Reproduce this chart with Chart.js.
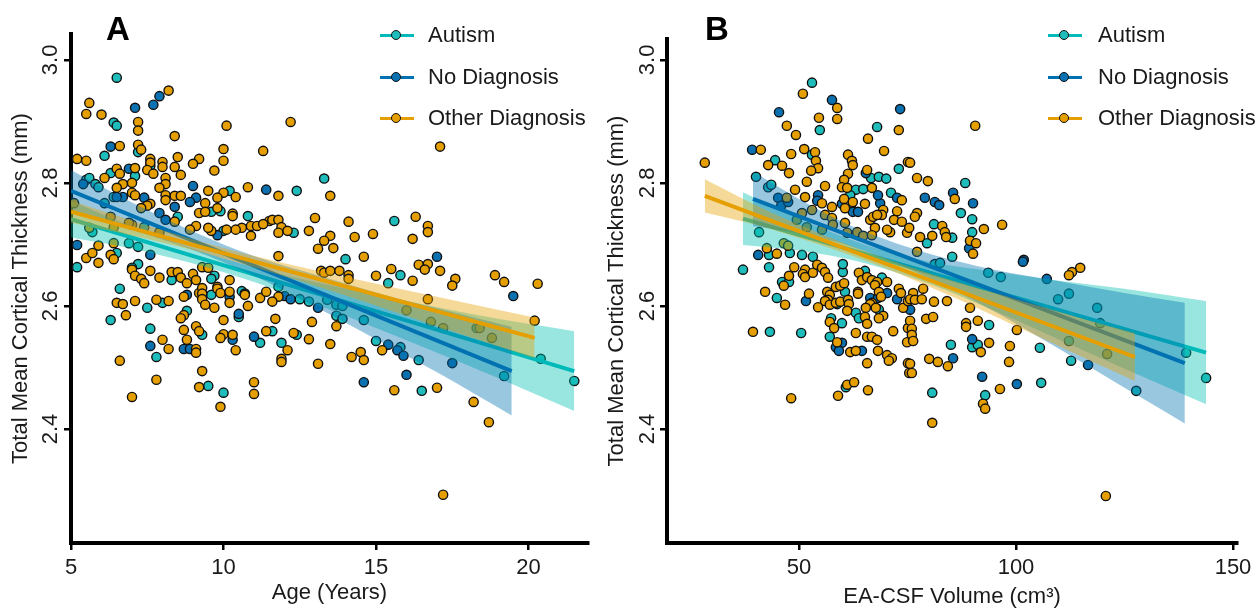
<!DOCTYPE html>
<html><head><meta charset="utf-8">
<script src="https://cdn.jsdelivr.net/npm/chart.js@4/dist/chart.umd.min.js"></script>
<style>
html,body{margin:0;padding:0;background:#fff;width:1258px;height:610px;overflow:hidden;font-family:"Liberation Sans",Arial,sans-serif;}
#wrap{position:relative;width:1258px;height:610px;}
canvas{position:absolute;top:0;}
#cA{left:0;} #cB{left:600px;}
.lbl{position:absolute;top:12px;font-weight:bold;font-size:33px;line-height:33px;color:#000;}
.leg{position:absolute;font-size:22px;line-height:22px;color:#1a1a1a;white-space:nowrap;}
.key{position:absolute;height:3px;width:34px;}
.dot{position:absolute;width:8px;height:8px;border:1.4px solid #111;border-radius:50%;}
</style></head>
<body><div id="wrap">
<canvas id="cA" width="600" height="610"></canvas>
<canvas id="cB" width="658" height="610"></canvas>
<div class="lbl" style="left:106px">A</div>
<div class="lbl" style="left:705px">B</div>
<div id="legends"></div>
</div>
<script>
// ---------- categories / labels ----------
const GROUPS = ['Autism', 'No Diagnosis', 'Other Diagnosis'];
const Y_TITLE = 'Total Mean Cortical Thickness (mm)';
const A_X_TITLE = 'Age (Years)';
const B_X_TITLE = 'EA-CSF Volume (cm\u00B3)';
const Y_TICKS = [2.4, 2.6, 2.8, 3.0];
const A_X_TICKS = [5, 10, 15, 20];
const B_X_TICKS = [50, 100, 150];

// ---------- Panel A: age vs thickness ----------
const A_AUTISM = [[6.5,2.971],[6.4,2.898],[6.5,2.893],[7.2,2.850],[6.1,2.844],[7.6,2.828],[7.1,2.811],[6.3,2.816],[10.2,2.787],[6.4,2.777],[9.9,2.754],[9.6,2.753],[10.8,2.746],[10.0,2.722],[5.5,2.805],[5.6,2.808],[5.8,2.798],[5.9,2.793],[5.7,2.720],[7.4,2.728],[5.2,2.663],[6.5,2.686],[6.9,2.702],[7.2,2.696],[7.2,2.668],[7.0,2.662],[8.3,2.642],[9.7,2.649],[9.6,2.644],[9.6,2.618],[10.6,2.624],[10.7,2.620],[6.6,2.628],[8.0,2.605],[7.5,2.597],[6.3,2.577],[8.8,2.592],[10.5,2.582],[7.6,2.563],[9.3,2.553],[7.8,2.517],[11.2,2.540],[9.5,2.470],[10.0,2.459],[13.3,2.807],[12.4,2.787],[12.3,2.719],[15.6,2.738],[14.0,2.676],[15.8,2.650],[15.4,2.637],[11.8,2.631],[12.5,2.611],[12.8,2.607],[13.4,2.610],[13.7,2.602],[13.9,2.600],[13.7,2.584],[13.9,2.579],[14.6,2.577],[11.6,2.559],[12.4,2.553],[11.9,2.540],[15.0,2.543],[15.8,2.533],[16.4,2.512],[16.5,2.462],[19.2,2.486],[20.4,2.514],[21.5,2.478],[18.3,2.564],[6.1,2.767],[8.5,2.745]];
const A_NODX = [[7.9,2.941],[7.7,2.927],[7.1,2.922],[6.3,2.859],[6.9,2.823],[9.0,2.795],[11.4,2.789],[7.4,2.776],[9.1,2.776],[8.9,2.769],[8.4,2.761],[6.7,2.777],[6.5,2.777],[7.9,2.751],[8.1,2.740],[5.4,2.798],[9.8,2.715],[5.2,2.699],[7.6,2.683],[10.2,2.615],[8.8,2.618],[10.5,2.587],[10.3,2.545],[7.6,2.535],[8.7,2.530],[8.9,2.530],[11.0,2.550],[17.0,2.680],[19.5,2.616],[12.0,2.616],[12.2,2.611],[13.1,2.597],[15.4,2.537],[15.7,2.528],[15.9,2.519],[17.5,2.507],[14.6,2.476],[16.0,2.488]];
const A_OTHER = [[8.2,2.950],[5.6,2.930],[5.5,2.912],[6.0,2.911],[7.2,2.899],[7.2,2.885],[10.1,2.893],[8.4,2.876],[6.6,2.860],[7.2,2.862],[7.3,2.854],[10.0,2.855],[11.3,2.852],[5.2,2.839],[5.5,2.836],[8.5,2.842],[7.6,2.839],[7.6,2.833],[8.0,2.834],[9.2,2.839],[9.0,2.831],[10.0,2.836],[8.4,2.826],[8.0,2.826],[7.5,2.821],[7.7,2.815],[7.1,2.824],[6.5,2.823],[6.6,2.815],[9.7,2.820],[8.6,2.813],[6.1,2.808],[8.1,2.808],[8.1,2.798],[7.0,2.800],[6.7,2.798],[6.5,2.792],[7.9,2.792],[10.8,2.793],[9.5,2.787],[7.0,2.784],[7.1,2.780],[10.0,2.784],[10.4,2.777],[8.1,2.780],[8.1,2.772],[8.4,2.779],[8.6,2.779],[9.4,2.767],[9.8,2.776],[9.2,2.751],[9.4,2.753],[9.8,2.759],[7.6,2.766],[7.5,2.763],[7.3,2.759],[10.3,2.750],[10.3,2.746],[11.5,2.738],[10.9,2.730],[11.1,2.730],[11.3,2.733],[10.6,2.727],[10.4,2.724],[10.1,2.724],[9.1,2.730],[9.6,2.722],[8.4,2.737],[5.1,2.767],[5.6,2.727],[6.4,2.728],[7.0,2.732],[7.9,2.720],[10.9,2.714],[5.5,2.678],[5.7,2.686],[5.9,2.670],[5.9,2.698],[6.3,2.683],[6.4,2.676],[6.4,2.702],[7.0,2.659],[7.1,2.649],[7.3,2.644],[7.4,2.637],[7.6,2.657],[7.9,2.646],[8.3,2.655],[8.5,2.655],[8.6,2.646],[9.0,2.652],[9.1,2.642],[8.8,2.637],[9.3,2.663],[9.5,2.662],[10.2,2.642],[9.8,2.631],[9.8,2.628],[9.2,2.621],[9.3,2.629],[9.3,2.620],[9.9,2.621],[10.2,2.623],[10.2,2.605],[8.7,2.615],[9.3,2.611],[9.4,2.602],[9.7,2.597],[10.7,2.618],[10.8,2.600],[11.2,2.613],[11.4,2.623],[6.5,2.605],[6.7,2.603],[7.1,2.608],[7.8,2.610],[8.2,2.608],[6.8,2.585],[8.7,2.585],[8.6,2.580],[10.0,2.577],[8.7,2.561],[9.1,2.567],[9.2,2.559],[8.8,2.545],[8.0,2.545],[8.2,2.530],[9.1,2.530],[9.1,2.524],[10.0,2.554],[9.9,2.548],[10.3,2.553],[10.4,2.528],[11.4,2.559],[6.6,2.511],[7.8,2.480],[9.3,2.494],[9.2,2.468],[9.9,2.436],[7.0,2.452],[11.0,2.476],[11.0,2.457],[12.2,2.899],[17.1,2.859],[11.8,2.779],[13.5,2.779],[11.6,2.740],[11.8,2.740],[11.9,2.728],[11.8,2.719],[12.1,2.722],[13.0,2.743],[12.8,2.722],[14.1,2.737],[16.3,2.745],[16.7,2.730],[16.7,2.720],[13.5,2.714],[14.3,2.712],[14.9,2.717],[16.2,2.709],[13.1,2.693],[13.6,2.694],[13.3,2.706],[11.8,2.681],[14.6,2.680],[16.4,2.667],[16.7,2.668],[16.6,2.659],[17.1,2.657],[15.5,2.660],[15.0,2.649],[16.2,2.641],[17.6,2.644],[17.5,2.633],[18.9,2.650],[19.2,2.639],[20.3,2.636],[13.2,2.657],[13.3,2.654],[13.5,2.657],[13.8,2.657],[14.1,2.650],[14.1,2.644],[16.7,2.611],[16.0,2.593],[20.2,2.576],[18.4,2.564],[18.8,2.548],[16.8,2.574],[17.2,2.564],[11.8,2.615],[11.6,2.607],[11.7,2.579],[12.9,2.574],[13.7,2.567],[12.3,2.556],[12.8,2.546],[12.1,2.528],[11.9,2.514],[11.9,2.509],[13.5,2.538],[13.1,2.506],[14.5,2.525],[14.2,2.517],[14.6,2.512],[15.2,2.528],[15.6,2.463],[17.0,2.467],[18.2,2.444],[18.7,2.411],[17.2,2.293],[6.3,2.745],[6.9,2.735],[8.9,2.724],[9.5,2.727]];

// regression fits and confidence bands (panel A)
const A_FIT_AUTISM = [[5, 2.741], [21.5, 2.494]];
const A_FIT_NODX   = [[5, 2.787], [19.45, 2.494]];
const A_FIT_OTHER  = [[5, 2.753], [20.2, 2.548]];
const A_BAND_AUTISM_X  = [5, 7, 9, 11, 13, 15, 17, 19, 21.5];
const A_BAND_AUTISM_HI = [2.771, 2.729, 2.693, 2.663, 2.639, 2.618, 2.598, 2.579, 2.559];
const A_BAND_AUTISM_LO = [2.711, 2.693, 2.669, 2.639, 2.603, 2.564, 2.524, 2.483, 2.429];
const A_BAND_NODX_X  = [5, 7, 9, 11, 13, 15, 17, 19.45];
const A_BAND_NODX_HI = [2.821, 2.768, 2.721, 2.681, 2.651, 2.622, 2.596, 2.566];
const A_BAND_NODX_LO = [2.753, 2.724, 2.691, 2.649, 2.599, 2.546, 2.492, 2.422];
const A_BAND_OTHER_X  = [5, 8, 11, 14, 17, 20.2];
const A_BAND_OTHER_HI = [2.771, 2.723, 2.681, 2.647, 2.615, 2.581];
const A_BAND_OTHER_LO = [2.735, 2.703, 2.663, 2.617, 2.567, 2.515];

// ---------- Panel B: EA-CSF volume vs thickness ----------
const B_AUTISM = [[53.0,2.963],[54.8,2.886],[68.0,2.891],[53.0,2.846],[44.5,2.837],[73.0,2.823],[66.6,2.808],[68.4,2.810],[70.1,2.807],[63.1,2.789],[64.8,2.790],[71.2,2.784],[61.8,2.780],[62.0,2.759],[40.1,2.810],[42.9,2.793],[43.6,2.797],[40.8,2.720],[43.1,2.683],[47.9,2.686],[50.7,2.683],[37.1,2.659],[43.1,2.663],[53.2,2.680],[46.1,2.639],[47.7,2.639],[44.9,2.613],[58.8,2.603],[60.6,2.623],[60.1,2.655],[60.1,2.668],[65.2,2.657],[69.1,2.646],[68.4,2.594],[63.1,2.589],[63.8,2.580],[57.4,2.580],[59.9,2.572],[57.1,2.550],[43.3,2.558],[50.5,2.556],[60.8,2.468],[88.3,2.800],[87.3,2.751],[89.9,2.741],[81.1,2.733],[85.3,2.711],[89.9,2.720],[79.5,2.702],[85.3,2.680],[81.3,2.668],[82.5,2.670],[93.6,2.654],[96.5,2.647],[112.2,2.620],[109.7,2.611],[118.7,2.597],[112.2,2.543],[93.8,2.569],[85.0,2.537],[89.9,2.533],[91.2,2.537],[105.5,2.532],[112.7,2.511],[105.8,2.475],[80.7,2.459],[92.9,2.455],[127.7,2.462],[139.2,2.524],[143.8,2.483],[119.4,2.572]];
const B_NODX = [[57.6,2.935],[45.4,2.915],[73.3,2.920],[39.2,2.854],[65.4,2.816],[72.6,2.776],[54.4,2.780],[54.2,2.771],[59.9,2.766],[68.7,2.767],[68.2,2.780],[62.4,2.753],[63.6,2.753],[45.2,2.776],[45.9,2.763],[47.5,2.769],[40.6,2.683],[51.6,2.608],[66.4,2.613],[68.2,2.613],[70.3,2.621],[72.6,2.611],[59.9,2.540],[58.5,2.533],[59.2,2.527],[64.5,2.527],[79.0,2.776],[81.3,2.769],[82.3,2.764],[85.5,2.784],[90.1,2.767],[89.2,2.694],[101.8,2.675],[101.6,2.672],[107.1,2.644],[75.6,2.594],[89.9,2.546],[85.5,2.515],[116.6,2.504],[92.2,2.485],[100.2,2.473]];
const B_OTHER = [[50.9,2.945],[58.8,2.922],[58.8,2.904],[54.6,2.906],[47.2,2.893],[49.3,2.878],[73.0,2.886],[65.9,2.872],[69.6,2.852],[41.2,2.854],[28.3,2.833],[51.2,2.855],[53.7,2.850],[48.2,2.847],[42.9,2.829],[46.1,2.828],[47.7,2.816],[53.9,2.836],[54.4,2.824],[52.8,2.820],[61.3,2.846],[62.2,2.836],[62.4,2.829],[75.1,2.834],[65.7,2.821],[61.3,2.815],[60.4,2.805],[51.8,2.802],[56.0,2.795],[59.9,2.793],[61.1,2.792],[66.8,2.792],[73.7,2.772],[49.1,2.789],[51.4,2.777],[55.3,2.767],[57.6,2.761],[60.4,2.774],[62.4,2.769],[65.2,2.766],[69.4,2.756],[69.1,2.748],[72.6,2.754],[60.6,2.759],[66.4,2.740],[67.1,2.745],[68.0,2.748],[71.9,2.740],[73.7,2.737],[71.0,2.720],[70.3,2.724],[74.9,2.719],[75.4,2.727],[67.5,2.727],[50.7,2.751],[53.0,2.756],[56.0,2.748],[57.6,2.743],[57.8,2.732],[60.6,2.735],[63.4,2.720],[64.8,2.714],[66.8,2.715],[61.1,2.719],[55.3,2.724],[51.8,2.728],[49.5,2.740],[42.6,2.694],[46.5,2.702],[47.5,2.698],[47.2,2.776],[44.9,2.685],[48.9,2.663],[51.4,2.659],[50.9,2.652],[51.4,2.647],[53.2,2.654],[54.2,2.667],[55.3,2.662],[56.0,2.655],[56.7,2.646],[46.5,2.633],[47.7,2.649],[42.2,2.623],[46.8,2.602],[52.3,2.620],[54.4,2.598],[56.5,2.623],[57.1,2.618],[56.7,2.610],[56.0,2.608],[57.1,2.602],[58.5,2.605],[59.5,2.607],[58.5,2.631],[59.5,2.633],[60.4,2.637],[61.3,2.610],[61.5,2.603],[61.1,2.592],[63.6,2.623],[63.6,2.620],[63.8,2.654],[64.5,2.642],[65.7,2.647],[66.8,2.642],[68.0,2.639],[67.5,2.634],[70.3,2.639],[68.4,2.623],[68.9,2.615],[66.8,2.605],[66.4,2.603],[65.4,2.597],[67.7,2.597],[69.4,2.584],[68.4,2.580],[73.0,2.628],[73.5,2.621],[74.0,2.597],[75.1,2.608],[65.2,2.582],[65.7,2.571],[57.1,2.574],[58.1,2.564],[63.1,2.556],[65.7,2.550],[66.8,2.550],[68.0,2.545],[71.7,2.559],[58.8,2.541],[61.8,2.525],[63.1,2.527],[68.2,2.527],[70.3,2.520],[71.4,2.515],[70.7,2.511],[65.7,2.507],[75.1,2.564],[74.9,2.541],[75.1,2.507],[75.4,2.491],[39.4,2.558],[61.1,2.472],[62.7,2.476],[59.0,2.454],[65.9,2.463],[48.2,2.450],[90.6,2.893],[75.6,2.833],[77.2,2.808],[79.7,2.803],[85.9,2.774],[77.2,2.751],[76.7,2.745],[83.0,2.730],[83.6,2.720],[83.9,2.712],[92.6,2.725],[96.8,2.732],[77.9,2.712],[80.7,2.714],[89.4,2.706],[90.8,2.702],[77.2,2.688],[90.1,2.685],[114.8,2.662],[112.9,2.655],[112.2,2.650],[78.6,2.628],[76.3,2.621],[75.6,2.611],[76.7,2.610],[78.3,2.611],[81.1,2.607],[84.1,2.608],[89.4,2.597],[79.3,2.579],[80.9,2.582],[75.6,2.576],[76.0,2.563],[76.0,2.553],[76.3,2.543],[88.5,2.572],[88.5,2.566],[91.2,2.576],[100.2,2.561],[121.0,2.522],[91.9,2.525],[93.8,2.540],[98.6,2.535],[80.0,2.514],[82.0,2.509],[84.3,2.502],[75.6,2.506],[76.0,2.491],[98.4,2.509],[96.3,2.465],[92.4,2.441],[92.9,2.433],[80.7,2.410],[120.7,2.291]];

const B_FIT_AUTISM = [[37.1, 2.742], [143.8, 2.524]];
const B_FIT_NODX   = [[39.4, 2.774], [138.9, 2.507]];
const B_FIT_OTHER  = [[28.3, 2.779], [127.4, 2.517]];
const B_BAND_AUTISM_X  = [37.1, 50, 65, 80, 95, 110, 125, 143.8];
const B_BAND_AUTISM_HI = [2.785, 2.742, 2.700, 2.672, 2.656, 2.641, 2.628, 2.608];
const B_BAND_AUTISM_LO = [2.699, 2.690, 2.670, 2.636, 2.592, 2.545, 2.498, 2.440];
const B_BAND_NODX_X  = [39.4, 50, 60, 70, 80, 95, 110, 125, 138.9];
const B_BAND_NODX_HI = [2.818, 2.774, 2.737, 2.708, 2.685, 2.659, 2.640, 2.621, 2.605];
const B_BAND_NODX_LO = [2.730, 2.718, 2.701, 2.676, 2.645, 2.591, 2.530, 2.467, 2.409];
const B_BAND_OTHER_X  = [28.3, 40, 55, 70, 85, 100, 115, 127.4];
const B_BAND_OTHER_HI = [2.806, 2.764, 2.717, 2.677, 2.642, 2.611, 2.580, 2.556];
const B_BAND_OTHER_LO = [2.752, 2.732, 2.699, 2.661, 2.616, 2.567, 2.518, 2.478];

// ---------- styling ----------
const FONT = '"Liberation Sans", Arial, sans-serif';
const TEXT = '#1a1a1a';
const PT_COL   = ['#1fbcbc', '#0b71b0', '#e69f00'];
const LINE_COL = ['#00b9b9', '#0072b2', '#e69f00'];
const BAND_COL = ['rgba(0,192,178,0.40)', 'rgba(0,114,178,0.40)', 'rgba(230,159,0,0.40)'];

const toXY = arr => arr.map(p => ({x: p[0], y: p[1]}));
const zipXY = (xs, ys) => xs.map((x, i) => ({x: x, y: ys[i]}));

function buildDatasets(points, fits, bands) {
  const ds = [];
  // points (drawn underneath everything)
  [2, 1, 0].forEach((g, k) => {
    ds.push({type: 'scatter', label: GROUPS[g], data: toXY(points[g]),
      backgroundColor: PT_COL[g], borderColor: '#111', borderWidth: 1.4,
      pointRadius: 4.6, order: 100 + k});
  });
  // ribbons + lines, per group in factor order (later groups on top)
  [0, 1, 2].forEach(g => {
    const base = 60 - g * 20;
    ds.push({type: 'line', label: GROUPS[g] + ' hi', data: zipXY(bands[g][0], bands[g][1]),
      borderColor: 'rgba(0,0,0,0)', borderWidth: 0, pointRadius: 0, fill: false,
      cubicInterpolationMode: 'monotone', order: base + 2});
    ds.push({type: 'line', label: GROUPS[g] + ' lo', data: zipXY(bands[g][0], bands[g][2]),
      borderColor: 'rgba(0,0,0,0)', borderWidth: 0, pointRadius: 0, fill: '-1',
      backgroundColor: BAND_COL[g], cubicInterpolationMode: 'monotone', order: base + 1});
    ds.push({type: 'line', label: GROUPS[g] + ' fit', data: toXY(fits[g]),
      borderColor: LINE_COL[g], borderWidth: 4, pointRadius: 0, fill: false, order: base});
  });
  return ds;
}

function axisCommon() {
  return {
    border: {display: true, color: '#000', width: 4},
    grid: {display: true, drawOnChartArea: false, drawTicks: true, tickLength: 7,
           lineWidth: 2.5, tickWidth: 2.5, color: '#000', tickColor: '#000'}
  };
}

function makePanel(id, cfg) {
  const xAx = Object.assign(axisCommon(), {
    type: 'linear', position: 'bottom', min: cfg.xmin, max: cfg.xmax,
    afterBuildTicks: s => { s.ticks = cfg.xTicks.map(v => ({value: v})); },
    afterFit: s => { s.height = 67; },
    ticks: {color: TEXT, font: {family: FONT, size: 22}, padding: 5, maxRotation: 0, minRotation: 0, autoSkip: false,
            callback: v => String(v)},
    title: {display: true, text: cfg.xTitle, color: TEXT, font: {family: FONT, size: 22},
            padding: {top: 0, bottom: cfg.xTitlePad}}
  });
  const yAx = Object.assign(axisCommon(), {
    type: 'linear', position: 'left', min: 2.2146, max: cfg.ymax,
    afterBuildTicks: s => { s.ticks = Y_TICKS.map(v => ({value: v})); },
    afterFit: s => { s.width = cfg.yWidth; },
    ticks: {color: TEXT, font: {family: FONT, size: 22}, padding: cfg.yTickPad, minRotation: 90, maxRotation: 90,
            crossAlign: 'center', autoSkip: false, callback: v => Number(v).toFixed(1)},
    title: {display: true, text: Y_TITLE, color: TEXT, font: {family: FONT, size: 22},
            padding: {top: cfg.yTitlePad, bottom: 0}}
  });
  return new Chart(document.getElementById(id), {
    type: 'scatter',
    data: {datasets: buildDatasets(cfg.points, cfg.fits, cfg.bands)},
    options: {
      responsive: false, animation: false, events: [], devicePixelRatio: 1,
      layout: {padding: {left: 0, top: cfg.top, right: cfg.right, bottom: 0}},
      plugins: {legend: {display: false}, tooltip: {enabled: false}},
      scales: {x: xAx, y: yAx}
    }
  });
}

makePanel('cA', {
  xmin: 5, xmax: 21.95, ymax: 3.042, top: 34, right: 12, yWidth: 71, yTickPad: -2,
  xTicks: A_X_TICKS, xTitle: A_X_TITLE, xTitlePad: 4, yTitlePad: 7.5,
  points: [A_AUTISM, A_NODX, A_OTHER],
  fits: [A_FIT_AUTISM, A_FIT_NODX, A_FIT_OTHER],
  bands: [[A_BAND_AUTISM_X, A_BAND_AUTISM_HI, A_BAND_AUTISM_LO],
          [A_BAND_NODX_X, A_BAND_NODX_HI, A_BAND_NODX_LO],
          [A_BAND_OTHER_X, A_BAND_OTHER_HI, A_BAND_OTHER_LO]]
});
makePanel('cB', {
  xmin: 19.59, xmax: 150.92, ymax: 3.034, top: 39, right: 21, yWidth: 67, yTickPad: -3,
  xTicks: B_X_TICKS, xTitle: B_X_TITLE, xTitlePad: 0, yTitlePad: 3.5,
  points: [B_AUTISM, B_NODX, B_OTHER],
  fits: [B_FIT_AUTISM, B_FIT_NODX, B_FIT_OTHER],
  bands: [[B_BAND_AUTISM_X, B_BAND_AUTISM_HI, B_BAND_AUTISM_LO],
          [B_BAND_NODX_X, B_BAND_NODX_HI, B_BAND_NODX_LO],
          [B_BAND_OTHER_X, B_BAND_OTHER_HI, B_BAND_OTHER_LO]]
});

// ---------- legends (HTML, real text) ----------
const LEG_ROWS = [35, 77, 118];
const LEG_POS = [{key: 380, dot: 396, text: 428}, {key: 1048, dot: 1064, text: 1098}];
const legHost = document.getElementById('legends');
LEG_POS.forEach(p => {
  GROUPS.forEach((g, i) => {
    const y = LEG_ROWS[i];
    const key = document.createElement('div');
    key.className = 'key';
    key.style.cssText = `left:${p.key}px;top:${y - 1.5}px;background:${LINE_COL[i]};`;
    legHost.appendChild(key);
    const dot = document.createElement('div');
    dot.className = 'dot';
    dot.style.cssText = `left:${p.dot - 5.4}px;top:${y - 5.4}px;background:${PT_COL[i]};`;
    legHost.appendChild(dot);
    const t = document.createElement('div');
    t.className = 'leg';
    t.style.cssText = `left:${p.text}px;top:${y - 10.7}px;`;
    t.textContent = g;
    legHost.appendChild(t);
  });
});
</script>
</body></html>
